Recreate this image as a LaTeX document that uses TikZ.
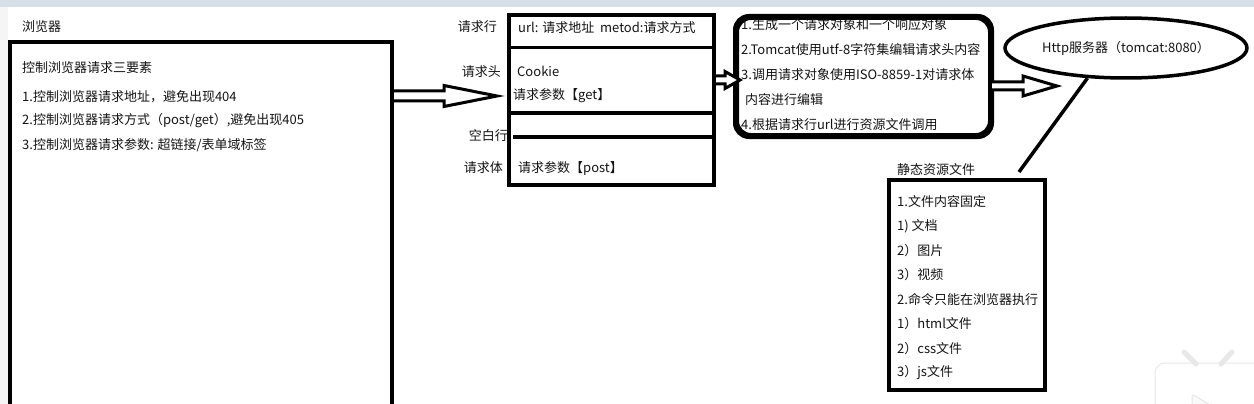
\documentclass[tikz,border=0pt]{standalone}
\usepackage{fontspec}
\setmainfont{Noto Sans CJK SC}
\usetikzlibrary{calc,shapes.geometric}
\definecolor{topbar}{RGB}{214,222,232}
\definecolor{txt}{RGB}{20,20,20}
\newcommand\hollowarr[5]{%
  \draw[arrowline] ($(#1)+(0,-#3)$) -- ($(#2)+(-#5,-#3)$) -- ($(#2)+(-#5,-#4)$) -- (#2)
    -- ($(#2)+(-#5,#4)$) -- ($(#2)+(-#5,#3)$) -- ($(#1)+(0,#3)$);}
\tikzset{
  box/.style={draw=black, line width=4pt, fill=white, inner sep=0pt},
  divline/.style={draw=black, line width=3pt},
  arrowline/.style={draw=black, line width=3pt, fill=white, line join=miter},
  lbl/.style={text=txt, inner sep=0pt, font=\fontsize{13}{15}\selectfont},
}
\begin{document}
\begin{tikzpicture}[x=1pt,y=-1pt]
\clip (0,0) rectangle (1254,404);
\fill[white] (0,0) rectangle (1254,404);
\fill[gray!8] (0,0) rectangle (8,404);
\fill[topbar] (0,0) rectangle (1254,7);

% browser
\node[lbl, anchor=west] (browserlbl) at (22,27) {浏览器};
\node[box, anchor=north west, minimum width=382, minimum height=420] (browser) at (8,40) {};
\node[lbl, anchor=west] (b0) at (22,68) {控制浏览器请求三要素};
\node[lbl, anchor=west] (b1) at (22,97) {1.控制浏览器请求地址，避免出现404};
\node[lbl, anchor=west] (b2) at (22,121) {2.控制浏览器请求方式（post/get）,避免出现405};
\node[lbl, anchor=west] (b3) at (22,145) {3.控制浏览器请求参数: 超链接/表单域标签};

% request
\node[box, anchor=north west, minimum width=205, minimum height=170] (req) at (507,13) {};
\draw[divline] (req.west |- 0,48) -- (req.east |- 0,48);
\draw[divline] (req.west |- 0,113) -- (req.east |- 0,113);
\draw[divline, line width=4pt] ($(req.west |- 0,137)+(6,0)$) -- (req.east |- 0,137);
\node[lbl, anchor=east] (l1) at (497,27) {请求行};
\node[lbl, anchor=east] (l2) at (501,72) {请求头};
\node[lbl, anchor=east] (l3) at (508,136) {空白行};
\node[lbl, anchor=east] (l4) at (503,168) {请求体};
\node[lbl, anchor=west] (r1) at (518,28) {url: 请求地址\ \ metod:请求方式};
\node[lbl, anchor=west] (r2) at (517,71) {Cookie};
\node[lbl, anchor=west] (r3) at (513,96) {请求参数【get】};
\node[lbl, anchor=west] (r4) at (518,168) {请求参数【post】};

% processing
\node[box, anchor=north west, minimum width=253, minimum height=117, rounded corners=14pt] (proc) at (735,16) {};
\begin{scope}
\clip[rounded corners=14pt] (735,16) rectangle (988,133);
\node[lbl, anchor=west] (p1) at (741,25) {1.生成一个请求对象和一个响应对象};
\node[lbl, anchor=west] (p2) at (741,50) {2.Tomcat使用utf-8字符集编辑请求头内容};
\node[lbl, anchor=west] (p3) at (741,75) {3.调用请求对象使用ISO-8859-1对请求体};
\node[lbl, anchor=west] (p4) at (745,100) {内容进行编辑};
\node[lbl, anchor=west] (p5) at (741,125) {4.根据请求行url进行资源文件调用};
\end{scope}
\draw[black, line width=4pt, rounded corners=14pt] (proc.north west) rectangle (proc.south east);

% server
\node[draw=black, line width=3.5pt, ellipse, minimum width=242, minimum height=60, inner sep=0pt, fill=white, lbl] (http) at (1126,48) {Http服务器（tomcat:8080）};

% static files
\node[lbl, anchor=west] (slbl) at (897,170) {静态资源文件};
\node[box, anchor=north west, minimum width=156, minimum height=210] (static) at (887,178) {};
\node[lbl, anchor=west] (s1) at (897,202) {1.文件内容固定};
\node[lbl, anchor=west] (s2) at (897,226) {1) 文档};
\node[lbl, anchor=west] (s3) at (897,251) {2）图片};
\node[lbl, anchor=west] (s4) at (897,275) {3）视频};
\node[lbl, anchor=west] (s5) at (897,300) {2.命令只能在浏览器执行};
\node[lbl, anchor=west] (s6) at (897,324) {1）html文件};
\node[lbl, anchor=west] (s7) at (897,349) {2）css文件};
\node[lbl, anchor=west] (s8) at (897,373) {3）js文件};

% connectors
\coordinate (a1s) at (browser.east |- 0,96);
\coordinate (a1e) at ($(req.west |- 0,96)+(-10,0)$);
\hollowarr{a1s}{a1e}{5}{10.5}{53}
\coordinate (a2s) at (req.east |- 0,80);
\coordinate (a2e) at ($(proc.west |- 0,80)+(5,0)$);
\hollowarr{a2s}{a2e}{4}{8.5}{15}
\coordinate (a3s) at (proc.east |- 0,86);
\coordinate (a3e) at (1057,86);
\hollowarr{a3s}{a3e}{4}{10}{34}
\coordinate (lineend) at ($(static.north east)+(-28,-6)$);
\draw[black, line width=3.5pt] (http.218) -- (lineend);

% watermark
\begin{scope}[draw=gray!18, line width=1pt, fill=white, line cap=round]
\draw[line width=5pt] (1184,352) -- (1196,364);
\draw[line width=5pt] (1232,352) -- (1221,364);
\draw[rounded corners=10pt] (1155,420) -- (1155,363) -- (1270,363);
\draw[fill=gray!5, rounded corners=3pt] (1192,394) -- (1215,408) -- (1192,420) -- cycle;
\end{scope}
\end{tikzpicture}
\end{document}
